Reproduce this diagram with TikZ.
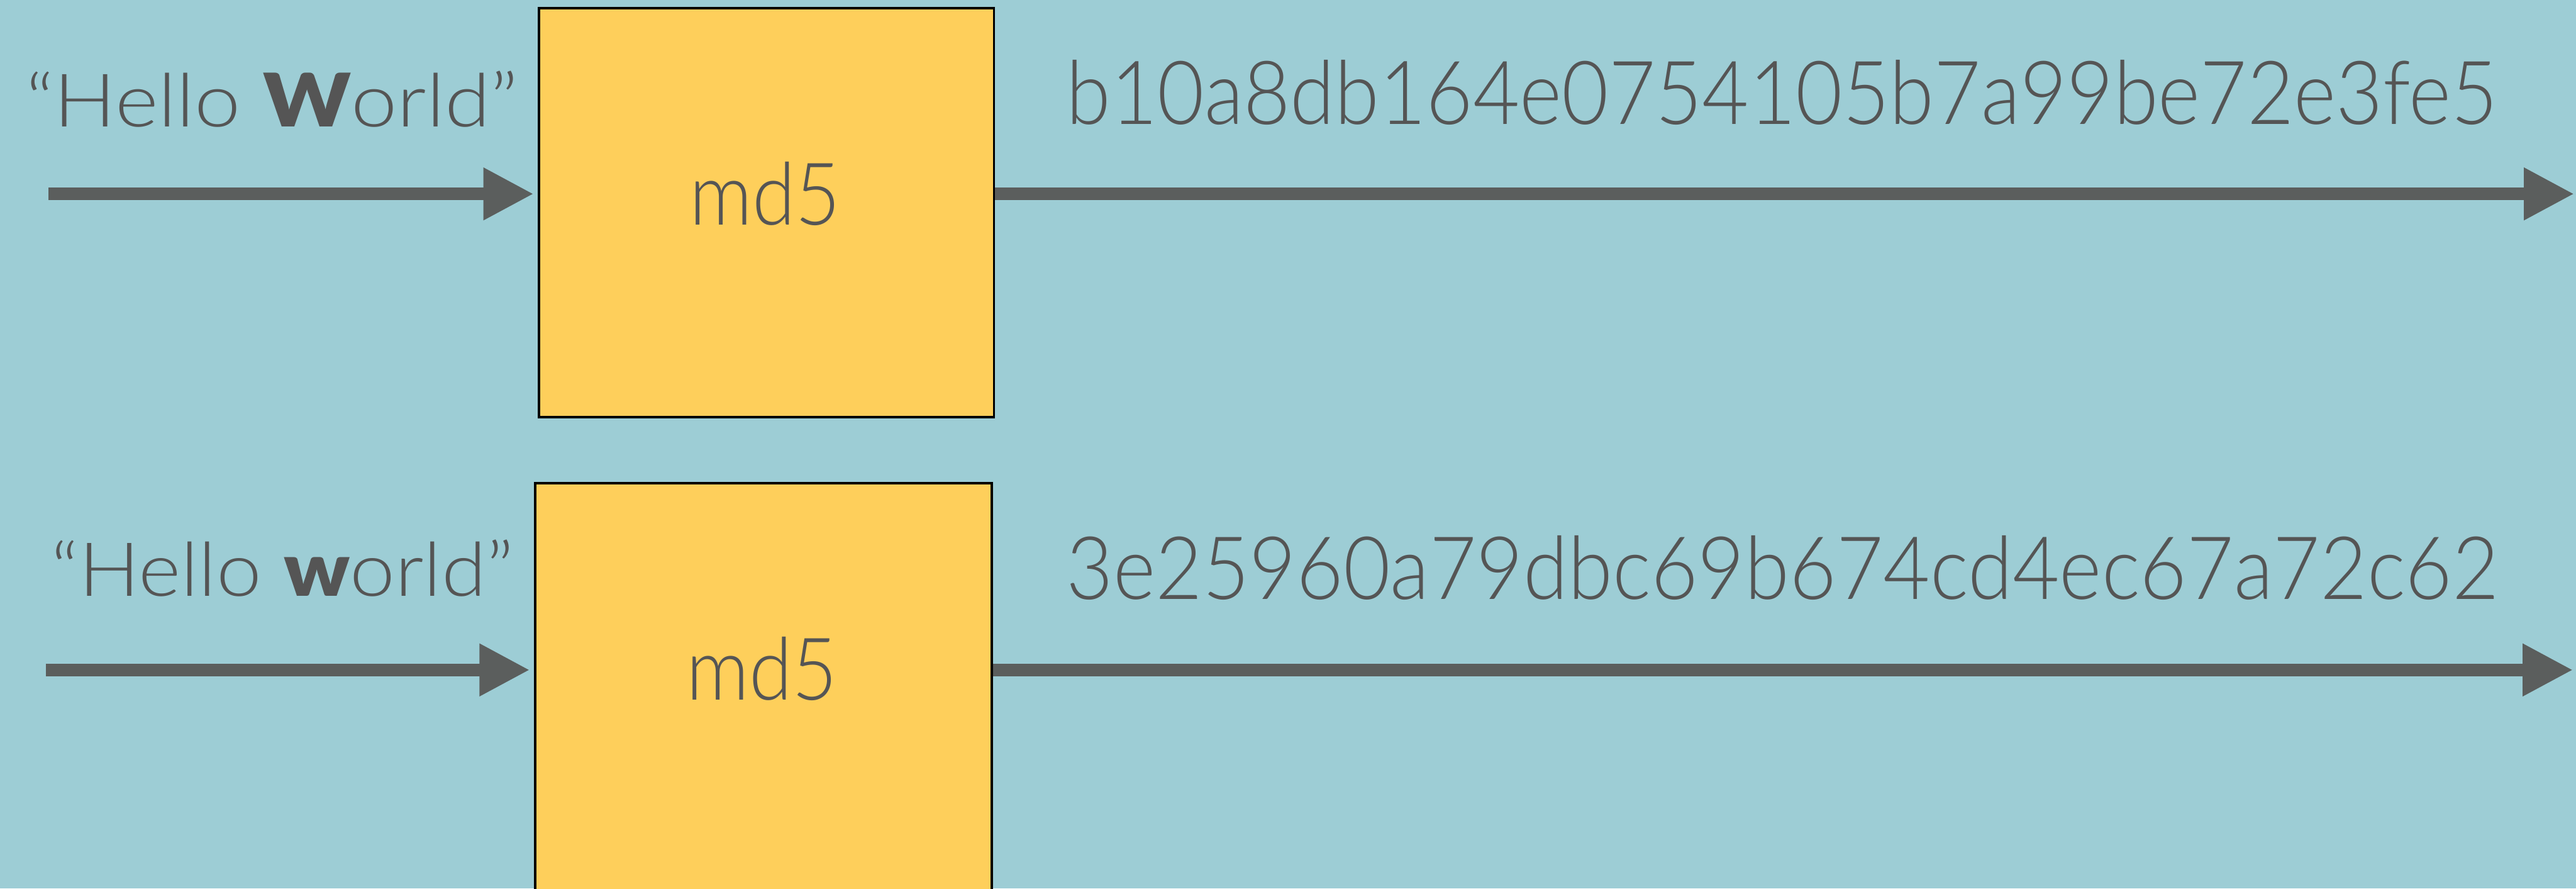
\documentclass[tikz,border=0pt]{standalone}
\usepackage{fontspec}
\setmainfont{Lato Light}[BoldFont=Lato Black]
\usetikzlibrary{arrows.meta}
\definecolor{bgc}{HTML}{9DCDD5}
\definecolor{boxc}{HTML}{FECF5B}
\definecolor{arrc}{HTML}{5B5E5D}
\definecolor{txtc}{HTML}{555555}
\tikzset{
  hashbox/.style={draw=black, line width=0.04cm, fill=boxc, inner sep=0pt},
  flow/.style={draw=arrc, line width=0.206cm, -{Triangle[length=0.84cm,width=0.82cm]}},
  lbl/.style={inner sep=0pt, outer sep=0pt, anchor=base west, text=txtc}
}
\begin{document}
\begin{tikzpicture}
\fill[bgc] (0,0) rectangle (42.93,-14.80);
\useasboundingbox (0,0) rectangle (42.93,-14.80);
% boxes
\node[hashbox, minimum width=7.58cm, minimum height=6.81cm] (box1) at (12.775,-3.545) {};
\node[hashbox, minimum width=7.61cm, minimum height=6.81cm] (box2) at (12.725,-11.455) {};
% labels
\node[lbl] (in1) at (0.43,-2.11) {\resizebox{8.21cm}{0.93cm}{“Hello \textbf{W}orld”}};
\node[lbl] (in2) at (0.85,-9.93) {\resizebox{7.71cm}{0.94cm}{“Hello \textbf{w}orld”}};
\node[lbl] (md1) at (11.49,-3.745) {\resizebox{2.52cm}{1.05cm}{md5}};
\node[lbl] (md2) at (11.44,-11.66) {\resizebox{2.52cm}{1.05cm}{md5}};
\node[lbl] (out1) at (17.77,-2.07) {\resizebox{23.85cm}{1.07cm}{b10a8db164e0754105b7a99be72e3fe5}};
\node[lbl] (out2) at (17.77,-9.98) {\resizebox{23.87cm}{1.06cm}{3e25960a79dbc69b674cd4ec67a72c62}};
% connectors
\coordinate (s1) at (0.81,-3.23);
\coordinate (e1) at (42.90,-3.23);
\coordinate (s2) at (0.77,-11.16);
\coordinate (e2) at (42.88,-11.16);
\draw[flow, shorten >=0.07cm] (s1) -- (s1 -| box1.west);
\draw[flow] (s1 -| box1.east) -- (e1);
\draw[flow, shorten >=0.07cm] (s2) -- (s2 -| box2.west);
\draw[flow] (s2 -| box2.east) -- (e2);
\end{tikzpicture}
\end{document}
